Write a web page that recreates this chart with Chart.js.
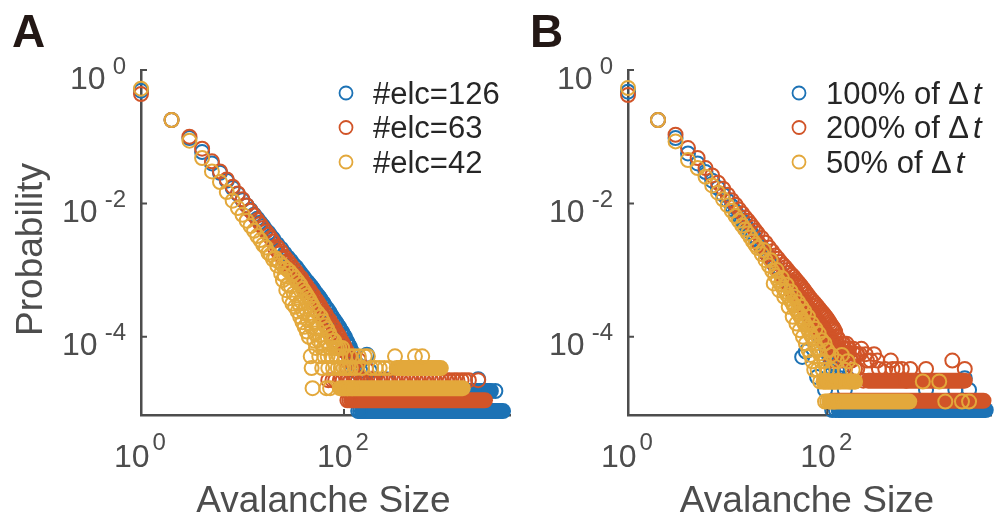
<!DOCTYPE html>
<html>
<head>
<meta charset="utf-8">
<script src="https://cdn.jsdelivr.net/npm/chart.js@4.4.1/dist/chart.umd.min.js"></script>
<style>
  body { margin: 0; background: #fff; }
  #wrap { position: relative; width: 1000px; height: 527px; overflow: hidden; }
  canvas { position: absolute; top: 0; }
  #chart-a { left: 0; }
  #chart-b { left: 520px; }
</style>
</head>
<body>
<div id="wrap">
  <canvas id="chart-a" width="520" height="527"></canvas>
  <canvas id="chart-b" width="480" height="527"></canvas>
</div>
<script>
// avalanche sizes sampled along the power-law part (same for every series)
const sizes = [1, 2, 3, 4, 5, 6, 7, 8, 9, 10, 11, 12, 13, 14, 15, 16, 17, 18, 19, 20,
  22, 24, 26, 28, 30, 32, 34, 36, 38, 40, 42, 44, 46, 48, 50, 52, 54, 56, 58, 60,
  63, 66, 69, 72, 75, 78, 81, 84, 87, 90, 93, 96, 99, 102, 105, 108, 111, 114, 117, 120];

// panel A: number of electrodes
const labelsA = ["#elc=126", "#elc=63", "#elc=42"];
const probElc126 = [0.49, 0.178, 0.0955, 0.0589, 0.0398, 0.0288, 0.0219, 0.017, 0.0138, 0.0112,
  0.00933, 0.00794, 0.00676, 0.00589, 0.00513, 0.00457, 0.00398, 0.00363, 0.00324, 0.00295,
  2.45e-3, 2.09e-3, 1.78e-3, 1.55e-3, 1.38e-3, 1.2e-3, 1.1e-3, 9.77e-4, 8.71e-4, 7.94e-4,
  7.08e-4, 6.61e-4, 6.03e-4, 5.62e-4, 5.13e-4, 4.68e-4, 4.37e-4, 4.07e-4, 3.8e-4, 3.47e-4,
  3.16e-4, 2.82e-4, 2.57e-4, 2.34e-4, 2.09e-4, 1.91e-4, 1.74e-4, 1.62e-4, 1.48e-4, 1.38e-4,
  1.26e-4, 1.17e-4, 1.07e-4, 1.0e-4, 8.91e-5, 8.32e-5, 7.59e-5, 7.08e-5, 6.31e-5, 5.89e-5];
const probElc63 = [0.437, 0.178, 0.1, 0.0661, 0.0427, 0.0302, 0.0229, 0.0178, 0.0141, 0.0115,
  0.00933, 0.00776, 0.00661, 0.00562, 0.0049, 0.00427, 0.0038, 0.00339, 0.00302, 0.00269,
  2.24e-3, 1.91e-3, 1.58e-3, 1.38e-3, 1.2e-3, 1.05e-3, 9.33e-4, 8.13e-4, 7.59e-4, 6.61e-4,
  6.03e-4, 5.37e-4, 5.01e-4, 4.47e-4, 4.17e-4, 3.72e-4, 3.47e-4, 3.16e-4, 2.95e-4, 2.69e-4,
  2.4e-4, 2.19e-4, 1.91e-4, 1.78e-4, 1.58e-4, 1.45e-4, 1.32e-4, 1.17e-4, 1.1e-4, 1.0e-4,
  8.91e-5, 8.32e-5, 7.59e-5, 6.92e-5, 6.31e-5, 5.89e-5, 5.37e-5, 5.01e-5, 4.48e-5, 4.17e-5];
const probElc42 = [0.525, 0.178, 0.0871, 0.0479, 0.0302, 0.0209, 0.0148, 0.011, 0.00851, 0.00676,
  0.0055, 0.00457, 0.00389, 0.00324, 0.00282, 0.0024, 0.00219, 0.00182, 0.0017, 0.00145,
  1.17e-3, 8.91e-4, 8.32e-4, 6.03e-4, 5.75e-4, 4.47e-4, 4.17e-4, 3.16e-4, 3.39e-4, 2.4e-4,
  2.63e-4, 1.78e-4, 2.09e-4, 1.41e-4, 1.66e-4, 1.12e-4, 1.32e-4, 8.91e-5, 1.05e-4, 7.94e-5,
  6.8e-5, 8.71e-5, 5.1e-5, 6.8e-5, 5.1e-5, 3.4e-5, 6.8e-5, 5.1e-5, 3.4e-5, 5.1e-5,
  3.4e-5, 6.8e-5, 3.4e-5, 5.1e-5, 3.4e-5, 1.7e-5, 3.4e-5, 5.1e-5, 3.4e-5, 1.7e-5];

// scattered points off the main line and in the tail
const extraSizeElc126 = [110, 122, 128, 135, 145, 155, 168, 180, 200, 230, 260, 320, 2100, 2700, 3100, 138, 144];
const extraProbElc126 = [5.4e-5, 3.85e-5, 3.08e-5, 3.85e-5, 3.08e-5, 2.31e-5, 5.4e-5, 3.08e-5, 2.31e-5, 1.54e-5,
  2.31e-5, 1.54e-5, 2.31e-5, 1.54e-5, 1.54e-5, 7.7e-6, 7.7e-6];
const extraSizeElc63 = [21, 23, 25, 27, 29, 31, 33, 35, 37, 39, 41, 43, 45,
  47, 53, 59, 65, 71, 77, 83, 89, 95, 101, 107, 113, 119, 125, 132, 140, 150, 165, 185, 2100, 108, 113,
  70, 77, 82, 91, 97, 108, 116, 128, 137, 152, 163, 181, 195, 215, 231, 256, 275, 305, 326, 362, 390,
  430, 462, 510, 550, 607, 655, 720, 780, 858, 925, 1020, 1100, 1210, 1310, 1440, 1560, 1700];
const extraProbElc63 = [2.09e-3, 1.78e-3, 1.48e-3, 1.26e-3, 1.07e-3, 9.33e-4, 8.32e-4, 7.41e-4, 6.61e-4, 5.89e-4,
  5.25e-4, 4.68e-4, 4.17e-4,
  3.8e-4, 3.02e-4, 2.24e-4, 1.78e-4, 1.41e-4, 1.12e-4, 8.91e-5, 7.08e-5, 6.31e-5, 4.48e-5,
  3.36e-5, 4.48e-5, 3.36e-5, 2.24e-5, 3.36e-5, 4.48e-5, 2.24e-5, 3.36e-5, 2.24e-5, 2.24e-5, 1.12e-5, 1.12e-5,
  2.24e-5, 2.24e-5, 2.24e-5, 2.24e-5, 2.24e-5, 2.24e-5, 2.24e-5, 2.24e-5, 2.24e-5, 2.24e-5, 2.24e-5, 2.24e-5, 2.24e-5,
  2.24e-5, 2.24e-5, 2.24e-5, 2.24e-5, 2.24e-5, 2.24e-5, 2.24e-5, 2.24e-5, 2.24e-5, 2.24e-5, 2.24e-5, 2.24e-5, 2.24e-5,
  2.24e-5, 2.24e-5, 2.24e-5, 2.24e-5, 2.24e-5, 2.24e-5, 2.24e-5, 2.24e-5, 2.24e-5, 2.24e-5, 2.24e-5, 2.24e-5];
const extraSizeElc42 = [21, 23, 25, 27, 29, 31, 33, 35, 37, 39, 41, 43, 45, 47, 49, 51, 55, 59, 62, 65, 68, 71, 74, 77, 80, 85, 90,
  25, 27, 29, 31, 33, 35, 37, 39, 41, 43, 45, 47, 48, 49, 51, 53, 57, 61, 64, 67, 70, 73, 76,
  125, 130, 140, 150, 160, 172, 185, 205, 225, 250, 280, 318, 500, 590];
const extraProbElc42 = [1.51e-3, 1.32e-3, 1.17e-3, 1.05e-3, 9.55e-4, 8.51e-4, 7.59e-4, 6.76e-4, 6.03e-4, 5.25e-4,
  4.68e-4, 4.17e-4, 3.72e-4, 3.31e-4, 2.95e-4, 2.63e-4, 2.29e-4, 2.0e-4, 1.7e-4, 1.48e-4,
  1.32e-4, 1.15e-4, 1.0e-4, 8.7e-5, 8.7e-5, 6.8e-5, 6.8e-5,
  7.08e-4, 5.01e-4, 3.8e-4, 3.16e-4, 2.82e-4, 2.4e-4, 2.0e-4, 1.66e-4, 1.41e-4, 1.2e-4,
  1.0e-4, 5.1e-5, 3.4e-5, 1.7e-5, 8.7e-5, 6.8e-5, 5.1e-5, 3.4e-5, 5.1e-5, 1.7e-5, 3.4e-5, 1.7e-5, 5.1e-5,
  5.1e-5, 3.4e-5, 5.1e-5, 3.4e-5, 5.1e-5, 5.1e-5, 3.4e-5, 3.4e-5, 3.4e-5, 3.4e-5, 3.4e-5, 5.1e-5, 5.1e-5, 5.1e-5];

// runs of sizes that share one probability level: [first size, last size, probability]
const bandsElc126 = [[150, 3690, 7.7e-6], [165, 2800, 1.54e-5]];
const bandsElc63 = [[118, 2450, 1.12e-5]];
const bandsElc42 = [[91, 1480, 1.7e-5], [330, 900, 3.4e-5]];

// panel B: time bin
const labelsB = ["100% of Δt", "200% of Δt", "50% of Δt"];
const probDt100 = [0.473, 0.178, 0.0955, 0.0562, 0.0398, 0.0295, 0.0219, 0.017, 0.0135, 0.011,
  0.00912, 0.00759, 0.00646, 0.0055, 0.00479, 0.00417, 0.00372, 0.00331, 0.00295, 0.00263,
  2.19e-3, 1.82e-3, 1.55e-3, 1.32e-3, 1.15e-3, 1.0e-3, 8.91e-4, 7.94e-4, 7.08e-4, 6.31e-4,
  5.62e-4, 5.01e-4, 4.68e-4, 4.27e-4, 3.89e-4, 3.55e-4, 3.24e-4, 3.02e-4, 2.75e-4, 2.51e-4,
  2.24e-4, 2.0e-4, 1.78e-4, 1.58e-4, 1.45e-4, 1.26e-4, 1.15e-4, 1.05e-4, 9.55e-5, 8.71e-5,
  7.94e-5, 7.08e-5, 6.31e-5, 5.62e-5, 5.01e-5, 4.47e-5, 4.0e-5, 3.2e-5, 4.0e-5, 2.4e-5];
const probDt200 = [0.422, 0.178, 0.107, 0.0676, 0.0479, 0.0339, 0.0263, 0.0204, 0.0166, 0.0135,
  0.0112, 0.00955, 0.00813, 0.00708, 0.00617, 0.0055, 0.0049, 0.00437, 0.00389, 0.00355,
  3.02e-3, 2.57e-3, 2.19e-3, 1.91e-3, 1.66e-3, 1.48e-3, 1.32e-3, 1.2e-3, 1.1e-3, 1.0e-3,
  9.12e-4, 8.51e-4, 7.94e-4, 7.24e-4, 6.76e-4, 6.31e-4, 5.89e-4, 5.5e-4, 5.13e-4, 4.79e-4,
  4.37e-4, 3.98e-4, 3.63e-4, 3.39e-4, 3.16e-4, 2.95e-4, 2.75e-4, 2.57e-4, 2.4e-4, 2.29e-4,
  2.14e-4, 2.0e-4, 1.91e-4, 1.78e-4, 1.66e-4, 1.55e-4, 1.45e-4, 1.38e-4, 1.29e-4, 1.2e-4];
const probDt50 = [0.537, 0.178, 0.0851, 0.0447, 0.0339, 0.0251, 0.0186, 0.0145, 0.0115, 0.00933,
  0.00776, 0.00646, 0.0055, 0.00468, 0.00407, 0.00355, 0.00309, 0.00269, 0.0024, 0.00214,
  1.74e-3, 1.41e-3, 1.17e-3, 9.77e-4, 8.32e-4, 7.08e-4, 6.17e-4, 5.37e-4, 4.79e-4, 4.17e-4,
  3.72e-4, 3.31e-4, 2.95e-4, 2.69e-4, 2.4e-4, 2.19e-4, 2.0e-4, 1.82e-4, 1.66e-4, 1.51e-4,
  1.35e-4, 1.17e-4, 1.05e-4, 9.33e-5, 7.94e-5, 6.76e-5, 6.31e-5, 5.62e-5, 4.3e-5, 3.2e-5,
  4.3e-5, 2.14e-5, 3.2e-5, 2.14e-5, 1.07e-5, 2.14e-5, 3.2e-5, 2.14e-5, 1.07e-5, 2.14e-5];

const extraSizeDt100 = [56, 61, 79, 95, 125, 135, 150, 160, 112, 122, 980, 1930, 2400, 2650];
const extraProbDt100 = [5.0e-5, 6.0e-5, 2.5e-5, 1.6e-5, 3.2e-5, 2.4e-5, 1.6e-5, 2.4e-5, 8e-6, 8e-6, 1.6e-5, 1.6e-5, 2.4e-5, 1.6e-5];
const extraSizeDt200 = [21, 23, 25, 27, 29, 33, 37, 41, 45, 49, 53, 57,
  31, 35, 39, 43, 47, 51, 55, 59,
  62, 65, 68, 71, 74, 77, 80, 83, 86, 89, 92, 95, 98, 101, 104, 107, 110, 113, 116, 119,
  125, 130, 135, 140, 150, 160, 175, 190, 200, 220, 250, 295, 330, 434, 500, 681, 980, 1800, 2400,
  130, 150, 170, 200, 230, 113, 118,
  131, 142, 147, 156, 166, 182, 197, 212, 243, 272, 318, 382, 452, 560, 620,
  44, 48, 52, 57, 61, 64, 67, 70, 73, 76, 79, 82, 85, 88, 91, 94, 97, 100, 103, 106, 109, 112, 115, 118,
  121, 127, 133, 138, 145, 153, 162, 171, 186];
const extraProbDt200 = [2.4e-3, 2.0e-3, 1.7e-3, 1.45e-3, 1.26e-3, 9.55e-4, 7.59e-4, 6.31e-4, 5.37e-4, 4.47e-4, 3.8e-4, 3.16e-4,
  1.0e-3, 7.94e-4, 6.31e-4, 5.01e-4, 4.47e-4, 3.55e-4, 3.16e-4, 2.82e-4,
  2.51e-4, 2.24e-4, 2.0e-4, 1.78e-4, 1.58e-4, 1.41e-4, 1.26e-4, 1.12e-4, 1.0e-4, 8.91e-5,
  1.0e-4, 7.94e-5, 7.08e-5, 6.31e-5, 7.94e-5, 5.5e-5, 4.4e-5, 6.6e-5, 5.5e-5, 4.4e-5,
  1.0e-4, 6.6e-5, 5.5e-5, 4.4e-5, 6.6e-5, 5.5e-5, 4.4e-5, 3.3e-5, 5.5e-5, 6.6e-5,
  4.4e-5, 5.5e-5, 3.3e-5, 4.4e-5, 3.3e-5, 3.3e-5, 3.3e-5, 4.4e-5, 3.3e-5,
  2.2e-5, 3.3e-5, 2.2e-5, 3.3e-5, 2.2e-5, 1.1e-5, 1.1e-5,
  8.9e-5, 7.9e-5, 6.6e-5, 7.9e-5, 6.6e-5, 6.6e-5, 5.5e-5, 5.5e-5, 5.5e-5, 4.4e-5, 4.4e-5, 3.3e-5, 3.3e-5, 3.3e-5, 2.2e-5,
  6.31e-4, 5.01e-4, 4.17e-4, 3.55e-4, 3.16e-4, 2.82e-4, 2.51e-4, 2.4e-4, 2.09e-4, 1.91e-4, 1.78e-4, 1.66e-4,
  1.51e-4, 1.41e-4, 1.32e-4, 1.26e-4, 1.2e-4, 1.12e-4, 1.05e-4, 1.0e-4, 8.91e-5, 8.91e-5, 7.94e-5, 7.94e-5,
  6.6e-5, 7.9e-5, 6.6e-5, 5.5e-5, 7.9e-5, 5.5e-5, 6.6e-5, 4.4e-5, 5.5e-5];
const extraSizeDt50 = [23, 27, 31, 35, 39, 43, 47, 51, 55, 59, 64, 70, 76, 82, 88, 94, 100, 110, 125, 140, 160, 180,
  29, 33, 37, 41, 45, 49, 53, 57, 61, 65, 68, 71, 74, 80, 85, 92, 95, 100, 130, 150, 170, 190,
  910, 1330, 1530, 2250, 2650];
const extraProbDt50 = [2.0e-3, 1.41e-3, 1.0e-3, 7.59e-4, 6.03e-4, 4.79e-4, 3.98e-4, 3.31e-4, 2.82e-4, 2.4e-4,
  2.0e-4, 1.58e-4, 1.32e-4, 1.12e-4, 8.91e-5, 7.94e-5, 6.31e-5, 5.35e-5, 4.3e-5, 5.35e-5, 4.3e-5, 3.2e-5,
  6.31e-4, 5.01e-4, 3.98e-4, 2.82e-4, 2.0e-4, 1.58e-4, 1.26e-4, 1.0e-4, 7.94e-5, 6.31e-5,
  5.35e-5, 4.3e-5, 3.2e-5, 3.2e-5, 2.14e-5, 2.14e-5, 1.07e-5, 1.07e-5, 2.14e-5, 3.2e-5, 2.14e-5, 2.14e-5,
  2.14e-5, 2.14e-5, 1.07e-5, 1.07e-5, 1.07e-5];

const bandsDt100 = [[130, 3900, 8e-6]];
const bandsDt200 = [[122, 3700, 1.1e-5], [257, 2400, 2.2e-5]];
const bandsDt50 = [[107, 665, 1.07e-5], [92, 188, 2.14e-5]];

const xTicks = [1, 100];
const yTicks = [1, 1e-2, 1e-4];
const xRange = [1, 4400];
const yRange = [6.73e-6, 1];

const seriesColors = ["#1c72b5", "#d15428", "#e3a83b"];
const axisColor = "#4d4d4d";
const fontFamily = '"Liberation Sans", Arial, Helvetica, sans-serif';

function makeSets(probs, exSizes, exProbs, bands, color, rank) {
  const points = sizes.map((s, i) => ({ x: s, y: probs[i] }))
    .concat(exSizes.map((s, i) => ({ x: s, y: exProbs[i] })));
  const sets = [{
    data: points,
    showLine: false,
    pointStyle: "circle",
    pointRadius: 7,
    pointHoverRadius: 7,
    pointBorderWidth: 2,
    pointBorderColor: color,
    pointBackgroundColor: "rgba(255,255,255,0)",
    order: rank,
    clip: false
  }];
  for (const band of bands) {
    sets.push({
      data: [{ x: band[0], y: band[2] }, { x: band[1], y: band[2] }],
      showLine: true,
      pointRadius: 0,
      borderColor: color,
      borderWidth: 16,
      borderCapStyle: "round",
      order: rank + 0.5,
      clip: false
    });
  }
  return sets;
}

function drawPowerY(ctx, exp, xRight, y) {
  ctx.textAlign = "right";
  ctx.font = "24px " + fontFamily;
  ctx.fillText(exp, xRight, y + 3.5);
  const expW = ctx.measureText(exp).width;
  ctx.font = "32px " + fontFamily;
  ctx.fillText("10", xRight - expW - 7, y + 18.5);
}

function drawPowerX(ctx, exp, xCenter, y) {
  ctx.textAlign = "left";
  ctx.font = "32px " + fontFamily;
  const baseW = ctx.measureText("10").width;
  ctx.font = "24px " + fontFamily;
  const expW = ctx.measureText(exp).width;
  const start = xCenter - (baseW + 3 + expW) / 2 - 1;
  ctx.fillText(exp, start + baseW + 3, y + 35);
  ctx.font = "32px " + fontFamily;
  ctx.fillText("10", start, y + 52);
}

const decorations = {
  id: "decorations",
  afterDraw(chart, args, opts) {
    const { ctx, chartArea, scales } = chart;
    const left = chartArea.left;
    const bottom = chartArea.bottom;
    ctx.save();

    // inward tick marks
    ctx.strokeStyle = axisColor;
    ctx.lineWidth = 2;
    ctx.beginPath();
    for (const v of yTicks) {
      const py = scales.y.getPixelForValue(v);
      ctx.moveTo(left, py);
      ctx.lineTo(left + 6, py);
    }
    for (const v of xTicks) {
      const px = scales.x.getPixelForValue(v);
      ctx.moveTo(px, bottom);
      ctx.lineTo(px, bottom - 6);
    }
    ctx.stroke();

    // tick labels as powers of ten
    ctx.fillStyle = axisColor;
    ctx.textBaseline = "alphabetic";
    for (const v of yTicks) {
      drawPowerY(ctx, String(Math.round(Math.log10(v))), left - 15, scales.y.getPixelForValue(v));
    }
    for (const v of xTicks) {
      drawPowerX(ctx, String(Math.round(Math.log10(v))), scales.x.getPixelForValue(v), bottom);
    }

    // axis titles
    ctx.font = "37px " + fontFamily;
    ctx.textAlign = "center";
    ctx.fillText(opts.xTitle, (chartArea.left + chartArea.right) / 2 - 2.5, bottom + 97);
    if (opts.yTitle) {
      ctx.save();
      ctx.translate(42, (chartArea.top + chartArea.bottom) / 2 + 7);
      ctx.rotate(-Math.PI / 2);
      ctx.fillText(opts.yTitle, 0, 0);
      ctx.restore();
    }

    // panel letter
    ctx.fillStyle = "#231815";
    ctx.font = "bold 46px " + fontFamily;
    ctx.textAlign = "left";
    ctx.fillText(opts.letter, opts.letterX, 47);

    // legend
    opts.labels.forEach((label, i) => {
      const cy = 93 + i * 34.5;
      ctx.strokeStyle = seriesColors[i];
      ctx.lineWidth = 1.8;
      ctx.beginPath();
      ctx.arc(opts.legendX, cy, 6.5, 0, Math.PI * 2);
      ctx.stroke();
      ctx.fillStyle = "#262626";
      ctx.font = "31px " + fontFamily;
      ctx.textAlign = "left";
      const tx = opts.legendX + 27;
      const cut = label.indexOf("Δ");
      if (cut >= 0) {
        const head = label.slice(0, cut + 1);
        ctx.fillText(head, tx, cy + 10.5);
        const w = ctx.measureText(head).width;
        ctx.font = "italic 31px " + fontFamily;
        ctx.fillText(label.slice(cut + 1), tx + w + 4, cy + 10.5);
      } else {
        ctx.fillText(label, tx, cy + 10.5);
      }
    });
    ctx.restore();
  }
};

function makeChart(canvasId, datasets, padding, extra) {
  return new Chart(document.getElementById(canvasId), {
    type: "scatter",
    data: { datasets: datasets },
    options: {
      responsive: false,
      animation: false,
      devicePixelRatio: 1,
      events: [],
      layout: { padding: padding },
      plugins: {
        legend: { display: false },
        tooltip: { enabled: false },
        decorations: extra
      },
      scales: {
        x: {
          type: "logarithmic",
          min: xRange[0],
          max: xRange[1],
          grid: { display: false },
          border: { display: true, color: axisColor, width: 2.5 },
          ticks: { display: false },
          afterFit: (scale) => { scale.height = 0; }
        },
        y: {
          type: "logarithmic",
          min: yRange[0],
          max: yRange[1],
          grid: { display: false },
          border: { display: true, color: axisColor, width: 2.5 },
          ticks: { display: false },
          afterFit: (scale) => { scale.width = 0; }
        }
      }
    },
    plugins: [decorations]
  });
}

const setsA = [].concat(
  makeSets(probElc126, extraSizeElc126, extraProbElc126, bandsElc126, seriesColors[0], 5),
  makeSets(probElc63, extraSizeElc63, extraProbElc63, bandsElc63, seriesColors[1], 3),
  makeSets(probElc42, extraSizeElc42, extraProbElc42, bandsElc42, seriesColors[2], 1)
);
const setsB = [].concat(
  makeSets(probDt100, extraSizeDt100, extraProbDt100, bandsDt100, seriesColors[0], 5),
  makeSets(probDt200, extraSizeDt200, extraProbDt200, bandsDt200, seriesColors[1], 3),
  makeSets(probDt50, extraSizeDt50, extraProbDt50, bandsDt50, seriesColors[2], 1)
);

makeChart("chart-a", setsA, { left: 141, right: 9.2, top: 70, bottom: 112 },
  { letter: "A", letterX: 12, xTitle: "Avalanche Size", yTitle: "Probability", labels: labelsA, legendX: 346 });
makeChart("chart-b", setsB, { left: 108, right: 0.4, top: 70, bottom: 112 },
  { letter: "B", letterX: 10, xTitle: "Avalanche Size", yTitle: "", labels: labelsB, legendX: 279 });
</script>
</body>
</html>
